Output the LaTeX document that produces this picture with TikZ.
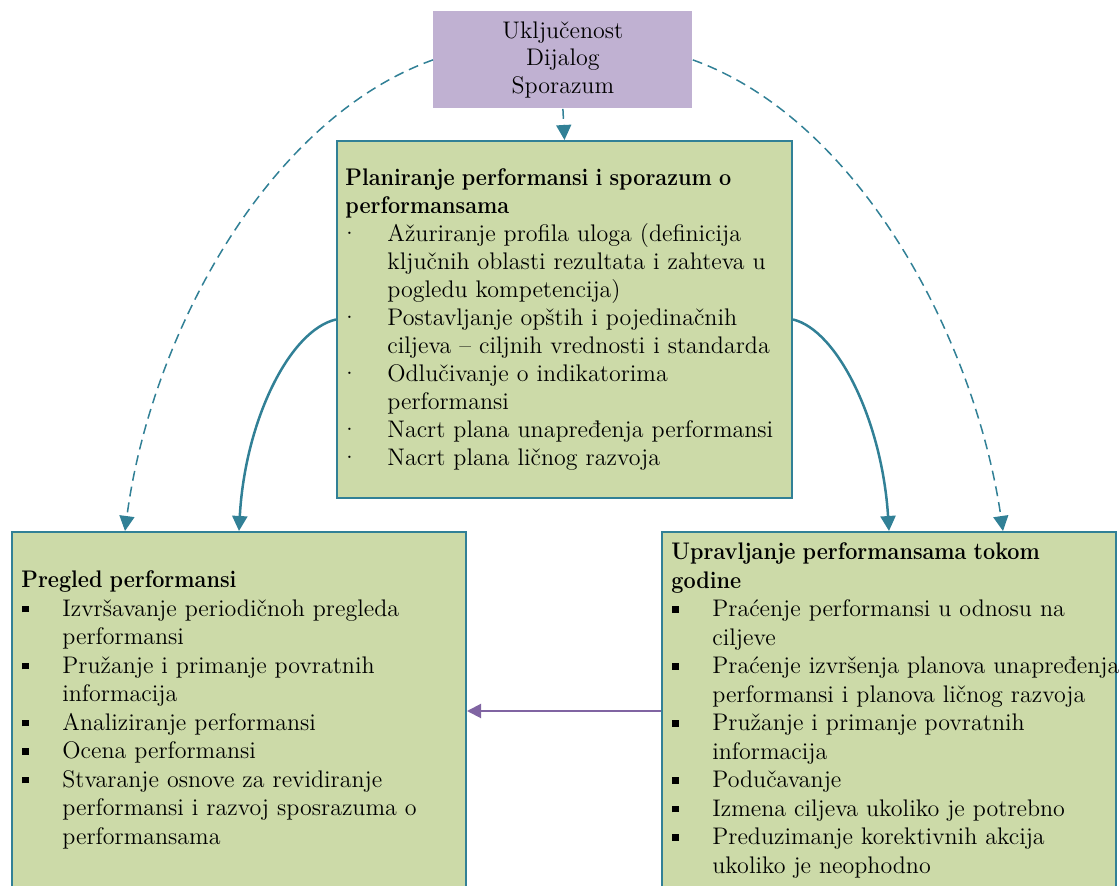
\documentclass[tikz,border=0pt]{standalone}
\usepackage{graphicx}
\usetikzlibrary{arrows.meta,calc}

\definecolor{panelfill}{RGB}{204,218,168}
\definecolor{ideafill}{RGB}{192,177,210}
\definecolor{edgeteal}{RGB}{49,128,150}
\definecolor{backlink}{RGB}{128,100,162}

% bullets with their hanging indent, and the panel headings
\newcommand\dotitem{\makebox[21pt][l]{\hspace{-2.5pt}·}}
\newcommand\sqitem{\makebox[20.5pt][l]{\hspace{0.5pt}\rule[2pt]{3.3pt}{3.3pt}}}
\newcommand\hang[1]{\hspace*{#1}}
\newcommand\head[1]{\scalebox{0.9}[1]{\textbf{#1}}}

\begin{document}
\begin{tikzpicture}[x=0.5pt,y=-0.5pt,
  every node/.style={inner sep=0pt},
  panel/.style={draw=edgeteal, line width=1pt, fill=panelfill, anchor=north west},
  lbl/.style={anchor=base west, text width=250pt, align=left},
  flow/.style={draw=edgeteal, line width=1.25pt, -{Triangle[width=7.5pt,length=7.5pt]}},
  hint/.style={flow, line width=0.75pt, dash pattern=on 5pt off 3pt}]

\useasboundingbox (0,0) rectangle (1120,886);
\clip (0,0) rectangle (1120,886);

% shared principles
\node[fill=ideafill, anchor=north west, minimum width=129.5pt, minimum height=48.5pt,
      align=center, font=\fontsize{12}{13.75}\selectfont] (idea) at (433,11)
  {Uključenost\\Dijalog\\Sporazum};

% the three phases
\node[panel, minimum width=227.5pt, minimum height=178.5pt] (plan) at (336,140) {};
\node[panel, minimum width=227pt, minimum height=184.5pt] (review) at (11,531) {};
\node[panel, minimum width=227pt, minimum height=184.5pt] (manage) at (661,531) {};

\node[lbl, font=\fontsize{12}{14}\selectfont] (plantext) at (345,186) {%
\head{Planiranje performansi i sporazum o}\\
\head{performansama}\\
\dotitem Ažuriranje profila uloga (definicija\\
\hang{21pt}ključnih oblasti rezultata i zahteva u\\
\hang{21pt}pogledu kompetencija)\\
\dotitem Postavljanje opštih i pojedinačnih\\
\hang{21pt}ciljeva – ciljnih vrednosti i standarda\\
\dotitem Odlučivanje o indikatorima\\
\hang{21pt}performansi\\
\dotitem Nacrt plana unapređenja performansi\\
\dotitem Nacrt plana ličnog razvoja};

\node[lbl, font=\fontsize{12}{14.25}\selectfont] (reviewtext) at (21,588) {%
\head{Pregled performansi}\\
\sqitem Izvršavanje periodičnoh pregleda\\
\hang{20.5pt}performansi\\
\sqitem Pružanje i primanje povratnih\\
\hang{20.5pt}informacija\\
\sqitem Analiziranje performansi\\
\sqitem Ocena performansi\\
\sqitem Stvaranje osnove za revidiranje\\
\hang{20.5pt}performansi i razvoj sposrazuma o\\
\hang{20.5pt}performansama};

\node[lbl, font=\fontsize{12}{14.25}\selectfont] (managetext) at (671,560) {%
\head{Upravljanje performansama tokom}\\
\head{godine}\\
\sqitem Praćenje performansi u odnosu na\\
\hang{20.5pt}ciljeve\\
\sqitem Praćenje izvršenja planova unapređenja\\
\hang{20.5pt}performansi i planova ličnog razvoja\\
\sqitem Pružanje i primanje povratnih\\
\hang{20.5pt}informacija\\
\sqitem Podučavanje\\
\sqitem Izmena ciljeva ukoliko je potrebno\\
\sqitem Preduzimanje korektivnih akcija\\
\hang{20.5pt}ukoliko je neophodno};

% connectors
\draw[hint] (idea.south) -- (plan.north);
\draw[hint] (idea.west) .. controls (265,120) and (150,340) ..
  ($(review.north west)!0.25!(review.north east)$);
\draw[hint] (idea.east) .. controls (860,120) and (975,340) ..
  ($(manage.north west)!0.75!(manage.north east)$);
\draw[flow] (plan.west) .. controls (290,330) and (245,420) .. (review.north);
\draw[flow] (plan.east) .. controls (837,330) and (882,420) .. (manage.north);
\draw[draw=backlink, line width=1pt, -{Triangle[width=7pt,length=7pt]}]
  ([yshift=2.75pt]manage.west) -- ([yshift=2.75pt]review.east);
\end{tikzpicture}
\end{document}
